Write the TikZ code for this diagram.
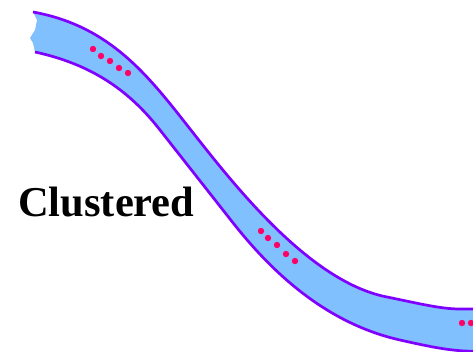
\documentclass[tikz,border=0pt]{standalone}
\usepackage{fontspec}
\setmainfont{Liberation Serif}
\usepackage{xcolor}
\usepackage{tikz}
\usetikzlibrary{positioning,calc}
\definecolor{bandblue}{HTML}{80C0FF}
\definecolor{bandedge}{HTML}{8000FF}
\definecolor{dotred}{HTML}{FF0066}

\begin{document}
\begin{tikzpicture}[x=1pt,y=-1pt,
  edge/.style={bandedge,line width=2.7pt,line join=round},
  dot/.style={circle,fill=dotred,inner sep=0pt,minimum size=6.4pt},
  lbl/.style={font=\fontsize{42.5}{45}\selectfont\bfseries,inner sep=0pt,anchor=base west}]
\useasboundingbox (0,0) rectangle (473,351);
\clip (0,0) rectangle (473,351);
% band body
\fill[bandblue] (33,12) .. controls (105,25) and (143,69) .. (183,120)
  .. controls (225,173) and (305,281) .. (387,297)
  .. controls (417,303) and (440,309) .. (460,309) -- (490,309) -- (490,352) -- (465,351)
  .. controls (445,350) and (425,345.6) .. (400,340)
  .. controls (320,322) and (265,264) .. (230,219) -- (160,130)
  .. controls (128,89) and (90,64) .. (35,52)
  -- (33,43) -- (30,38) -- (35,30) -- (37,20) -- cycle;
% outline
\draw[edge] (33,12) .. controls (105,25) and (143,69) .. (183,120)
  .. controls (225,173) and (305,281) .. (387,297)
  .. controls (417,303) and (440,309) .. (460,309) -- (490,309);
\draw[edge] (35,52) .. controls (90,64) and (128,89) .. (160,130) -- (230,219)
  .. controls (265,264) and (320,322) .. (400,340)
  .. controls (425,345.6) and (445,350) .. (465,351) -- (490,352);
% dots
\foreach \i/\p in {a1/{(93,49)},a2/{(101,56)},a3/{(110,61)},a4/{(119,68)},a5/{(128,73)},
                   b1/{(261,231)},b2/{(268,238)},b3/{(277,245)},b4/{(286,254)},b5/{(295,261)},
                   c1/{(462,323)},c2/{(471,323)}}
  \node[dot] (\i) at \p {};
\node[lbl] (clustered) at (18,216) {Clustered};
\end{tikzpicture}
\end{document}
